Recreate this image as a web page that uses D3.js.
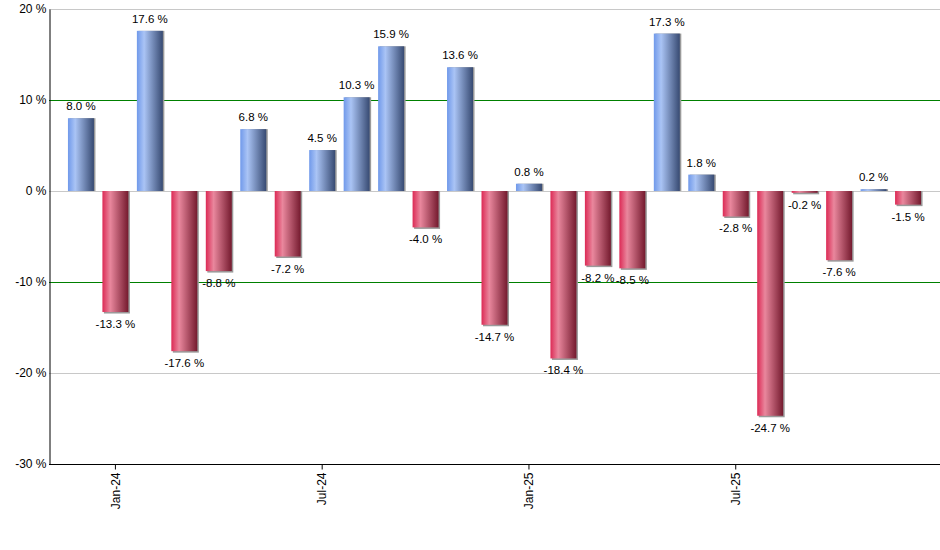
<!DOCTYPE html>
<html>
<head>
<meta charset="utf-8">
<script src="https://cdn.jsdelivr.net/npm/d3@7"></script>
<style>
  body { margin: 0; background: #fff; }
  text { font-family: "Liberation Sans", Arial, sans-serif; fill: #000; }
</style>
</head>
<body>
<div id="chart"></div>
<script>
const months = ["Dec-23", "Jan-24", "Feb-24", "Mar-24", "Apr-24", "May-24", "Jun-24", "Jul-24",
  "Aug-24", "Sep-24", "Oct-24", "Nov-24", "Dec-24", "Jan-25", "Feb-25", "Mar-25", "Apr-25",
  "May-25", "Jun-25", "Jul-25", "Aug-25", "Sep-25", "Oct-25", "Nov-25", "Dec-25"];
const returns = [8.0, -13.3, 17.6, -17.6, -8.8, 6.8, -7.2, 4.5, 10.3, 15.9, -4.0, 13.6, -14.7,
  0.8, -18.4, -8.2, -8.5, 17.3, 1.8, -2.8, -24.7, -0.2, -7.6, 0.2, -1.5];
const xTicks = ["Jan-24", "Jul-24", "Jan-25", "Jul-25"];
const yTicks = [20, 10, 0, -10, -20, -30];

const W = 940, H = 550;
const plot = { left: 49, right: 940, top: 9, bottom: 464 };

const svg = d3.select("#chart")
  .append("svg")
  .attr("width", W)
  .attr("height", H);

const x = d3.scaleBand()
  .domain(months)
  .range([plot.left, plot.right])
  .paddingInner(0.246)
  .paddingOuter(0.55);

const y = d3.scaleLinear()
  .domain([-30, 20])
  .range([plot.bottom, plot.top]);

// gradients
const defs = svg.append("defs");
function grad(id, stops) {
  const g = defs.append("linearGradient").attr("id", id)
    .attr("x1", "0%").attr("x2", "100%").attr("y1", "0%").attr("y2", "0%");
  stops.forEach(s => g.append("stop").attr("offset", s[0]).attr("stop-color", s[1]));
}
grad("gradPos", [["0%", "#7099ea"], ["28%", "#aac4f5"], ["100%", "#374a72"]]);
grad("gradNeg", [["0%", "#dc2a55"], ["30%", "#e9879d"], ["100%", "#741a2e"]]);

// grid lines
svg.append("g")
  .selectAll("line")
  .data(yTicks.filter(d => d !== -30))
  .join("line")
  .attr("x1", plot.left)
  .attr("x2", plot.right)
  .attr("y1", d => Math.round(y(d)) + 0.5)
  .attr("y2", d => Math.round(y(d)) + 0.5)
  .attr("stroke", d => Math.abs(d) === 10 ? "#008000" : "#c8c8c8")
  .attr("stroke-width", 1);

// bars (shadow first)
const bars = svg.append("g");
bars.selectAll("rect.shadow")
  .data(returns)
  .join("rect")
  .attr("class", "shadow")
  .attr("x", (d, i) => x(months[i]) + 1.5)
  .attr("y", d => d >= 0 ? y(d) : y(0))
  .attr("width", x.bandwidth())
  .attr("height", d => Math.abs(y(d) - y(0)) + (d < 0 ? 1.5 : 0))
  .attr("fill", "#9a9a9a");

bars.selectAll("rect.bar")
  .data(returns)
  .join("rect")
  .attr("class", "bar")
  .attr("x", (d, i) => x(months[i]))
  .attr("y", d => d >= 0 ? y(d) : y(0))
  .attr("width", x.bandwidth())
  .attr("height", d => Math.abs(y(d) - y(0)))
  .attr("fill", d => d >= 0 ? "url(#gradPos)" : "url(#gradNeg)");

// value labels
svg.append("g")
  .selectAll("text")
  .data(returns)
  .join("text")
  .attr("x", (d, i) => x(months[i]) + x.bandwidth() / 2)
  .attr("y", d => d >= 0 ? y(d) - 8 : y(d) + 16)
  .attr("text-anchor", "middle")
  .style("font-size", "11.5px")
  .text(d => d.toFixed(1) + " %");

// y axis
const yAxis = svg.append("g")
  .attr("transform", `translate(${plot.left + 0.5},0)`)
  .call(d3.axisLeft(y).tickValues(yTicks).tickSize(0).tickPadding(3).tickFormat(d => d + " %"));
yAxis.select(".domain").attr("stroke", "#000");
yAxis.selectAll("text").style("font-size", "12px").attr("fill", "#000");

// x axis
const xAxis = svg.append("g")
  .attr("transform", `translate(0,${plot.bottom + 0.5})`)
  .call(d3.axisBottom(x).tickValues(xTicks).tickSize(5).tickSizeOuter(0));
xAxis.select(".domain").attr("stroke", "#000").attr("d", `M${plot.left},0H${plot.right}`);
xAxis.selectAll(".tick line").attr("stroke", "#000");
xAxis.selectAll("text")
  .style("font-size", "12px")
  .attr("fill", "#000")
  .attr("transform", "rotate(-90)")
  .attr("text-anchor", "end")
  .attr("x", -8)
  .attr("y", 0)
  .attr("dy", "0.35em");
</script>
</body>
</html>
